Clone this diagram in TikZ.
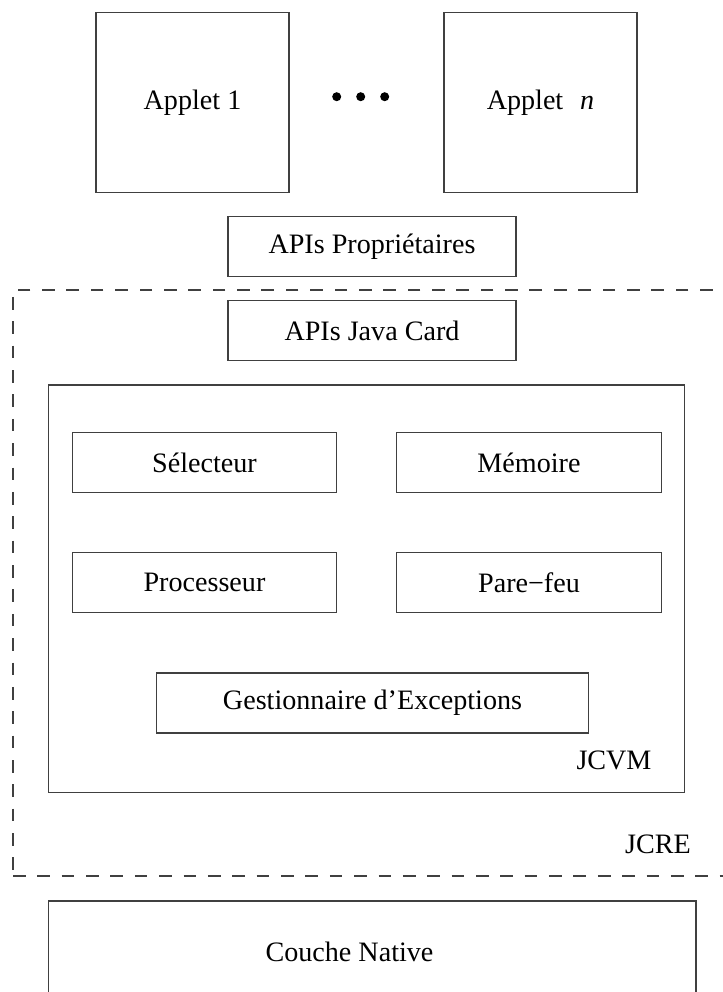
\documentclass[tikz,border=0pt]{standalone}
\usepackage{fontspec}
\setmainfont{Liberation Serif}
\usepackage{tikz}
\usetikzlibrary{positioning,calc}

\newcommand{\pxu}{0.015cm}
\tikzset{
    box/.style={draw=black!75, line width=0.6pt, rectangle, inner sep=0pt},
    sized/.style 2 args={minimum width=#1*\pxu, minimum height=#2*\pxu},
    jcrebox/.style={draw=black!75, line width=0.6pt, dash pattern=on 5.4pt off 5pt, rectangle, inner sep=0pt},
    dotmark/.style={circle, fill=black, inner sep=0pt, minimum size=9*\pxu},
    tag/.style={inner sep=0pt}
}

\begin{document}
\begin{tikzpicture}[x=\pxu, y=-\pxu, font=\fontsize{12}{14}\selectfont]
    \useasboundingbox (0,0) rectangle (723,992);
    \clip (0,0) rectangle (723,992);

    % Applets
    \node[box, sized={193}{180}] (app1) at (192.5,102.7) {Applet 1};
    \node[box, sized={193}{180}] (appn) at (540.5,102.7) {Applet\hspace{0.6em}\textit{n}};
    \node[dotmark] (d1) at (336.7,96.7) {};
    \node[dotmark] (d2) at (360.7,96.7) {};
    \node[dotmark] (d3) at (384.7,96.7) {};

    % APIs
    \node[box, sized={288}{60}] (apiprop) at (372,246.7) {APIs Propriétaires};

    % JCRE
    \node[jcrebox, sized={727}{586}] (jcre) at (376.5,583) {};
    \node[box, sized={288}{60}] (apijc) at (372,330.7) {APIs Java Card};

    % JCVM
    \node[box, sized={636.2}{407.7}] (jcvm) at (366.5,588.85) {};
    \node[box, sized={264}{60}] (sel) at (204.5,462.7) {Sélecteur};
    \node[box, sized={265}{60}] (mem) at (529,462.7) {Mémoire};
    \node[box, sized={264}{60}] (proc) at (204.5,582.7) {Processeur};
    \node[box, sized={265}{60}] (pare) at (529,582.7) {Pare−feu};
    \node[box, sized={432}{60}] (gest) at (372.5,703) {Gestionnaire d’Exceptions};
    \node[tag] (jcvmtag) at (614,760) {JCVM};
    \node[tag] (jcretag) at (658,844) {JCRE};

    % Couche native
    \node[box, sized={647.6}{102}] (native) at (372.2,952) {};
    \node[tag] (nativetag) at (349.5,952) {Couche Native};
\end{tikzpicture}
\end{document}
